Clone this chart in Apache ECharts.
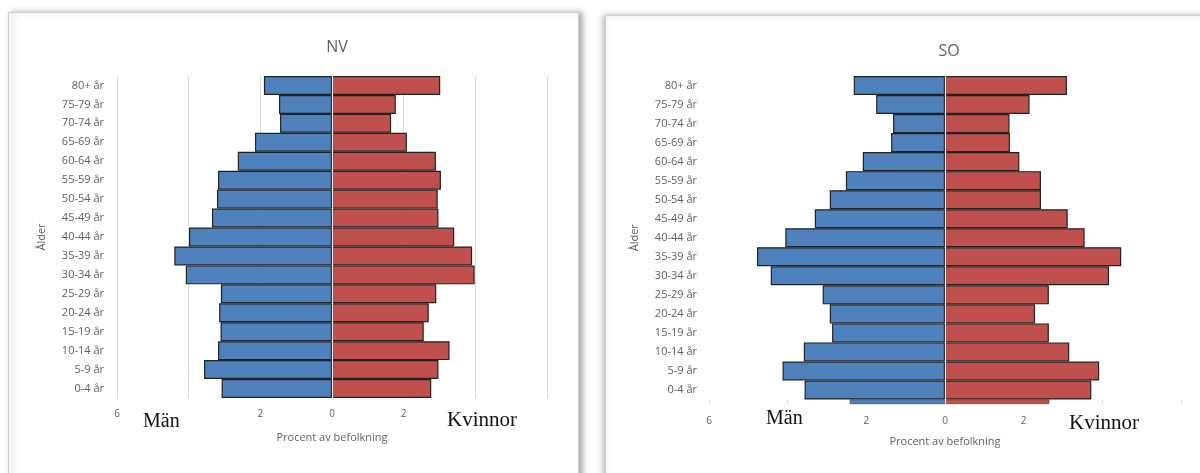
<!DOCTYPE html>
<html>
<head>
<meta charset="utf-8">
<script src="https://cdn.jsdelivr.net/npm/echarts@6/dist/echarts.min.js"></script>
<style>html,body{margin:0;padding:0;background:#fff;}#c{width:1200px;height:473px;}</style>
</head>
<body>
<div id="c"></div>
<script>
const ageGroups = ['0-4 år','5-9 år','10-14 år','15-19 år','20-24 år','25-29 år','30-34 år','35-39 år','40-44 år','45-49 år','50-54 år','55-59 år','60-64 år','65-69 år','70-74 år','75-79 år','80+ år'];
const nvMen   = [3.08,3.57,3.18,3.11,3.15,3.10,4.08,4.40,3.99,3.35,3.21,3.18,2.63,2.15,1.45,1.48,1.90];
const nvWomen = [2.77,2.97,3.28,2.56,2.70,2.91,3.98,3.91,3.41,2.97,2.95,3.04,2.90,2.09,1.65,1.78,3.02];
const soMen   = [3.57,4.13,3.59,2.87,2.93,3.11,4.43,4.78,4.06,3.31,2.93,2.52,2.09,1.37,1.32,1.75,2.32];
const soWomen = [3.72,3.92,3.16,2.64,2.29,2.64,4.17,4.48,3.55,3.12,2.44,2.44,1.89,1.65,1.64,2.15,3.10];
const soExtraMen = [2.42];
const soExtraWomen = [2.65];
const xTickLabels = {'-6':'6','-2':'2','0':'0','2':'2'};
const panelTitles = ['NV','SO'];

const chart = echarts.init(document.getElementById('c'), null, {renderer:'canvas'});
const grey = '#5f5f5f';
const blue = '#4f81bd', red = '#c0504d', edge = '#222222';

function xAxisFor(gi, showName, labelMargin, nameGap) {
  return {
    gridIndex: gi, type: 'value', min: -6, max: 6, interval: 2,
    axisLine: {show: false}, axisTick: {show: false},
    splitLine: {show: showName !== null, lineStyle: {color: '#d9d9d9', width: 1}},
    axisLabel: {show: showName !== null, color: grey, fontSize: 10, fontFamily: 'Open Sans', margin: labelMargin,
      formatter: v => (xTickLabels[String(v)] !== undefined ? xTickLabels[String(v)] : '')},
    name: showName || '', nameLocation: 'middle', nameGap: nameGap,
    nameTextStyle: {color: grey, fontSize: 11, fontFamily: 'Open Sans'}
  };
}
function yAxisFor(gi, cats, showName, nameGap, margin) {
  return {
    gridIndex: gi, type: 'category', data: cats,
    axisTick: {show: false},
    axisLine: {show: true, onZero: true, lineStyle: {color: '#e8e8e8', width: 1.2}},
    axisLabel: {show: showName, color: grey, fontSize: 11, fontFamily: 'Open Sans', margin: margin},
    name: showName ? 'Ålder' : '', nameLocation: 'middle', nameRotate: 90, nameGap: nameGap,
    nameTextStyle: {color: grey, fontSize: 11, fontFamily: 'Open Sans'},
    z: 5
  };
}
function barSeries(xi, data, color, sign, bw) {
  return {
    type: 'bar', xAxisIndex: xi, yAxisIndex: xi,
    data: data.map(v => sign * v),
    barWidth: '100%', barGap: '-100%',
    itemStyle: {color: color, borderColor: edge, borderWidth: bw},
    silent: true, z: 2
  };
}

const option = {
  backgroundColor: '#ffffff',
  animation: false,
  graphic: [
    {type: 'rect', shape: {x: 8.5, y: 12.5, width: 570, height: 470}, z: -10,
     style: {fill: '#fff', stroke: '#cfcfcf', lineWidth: 1, shadowBlur: 6, shadowOffsetX: 3, shadowOffsetY: 0, shadowColor: 'rgba(0,0,0,0.35)'}},
    {type: 'rect', shape: {x: 605.5, y: 15.5, width: 620, height: 470}, z: -10,
     style: {fill: '#fff', stroke: '#cfcfcf', lineWidth: 1, shadowBlur: 6, shadowOffsetX: -2, shadowOffsetY: 0, shadowColor: 'rgba(0,0,0,0.3)'}},
    {type: 'text', left: 143, top: 412, z: 10, style: {text: 'Män', fill: '#111', font: '20px "Liberation Serif"'}},
    {type: 'text', left: 447, top: 410, z: 10, style: {text: 'Kvinnor', fill: '#111', font: '21px "Liberation Serif"'}},
    {type: 'text', left: 766, top: 409, z: 10, style: {text: 'Män', fill: '#111', font: '20px "Liberation Serif"'}},
    {type: 'text', left: 1069, top: 413, z: 10, style: {text: 'Kvinnor', fill: '#111', font: '21px "Liberation Serif"'}}
  ],
  title: [
    {text: panelTitles[0], left: 332, top: 34, textAlign: 'center',
     textStyle: {color: grey, fontSize: 16, fontWeight: 'normal', fontFamily: 'Open Sans'}},
    {text: panelTitles[1], left: 944, top: 38, textAlign: 'center',
     textStyle: {color: grey, fontSize: 16, fontWeight: 'normal', fontFamily: 'Open Sans'}}
  ],
  grid: [
    {left: 117, width: 430, top: 76, height: 322},
    {left: 709, width: 472, top: 76, height: 323.5},
    {left: 709, width: 472, top: 399.5, height: 4.5}
  ],
  xAxis: [
    xAxisFor(0, 'Procent av befolkning', 11, 34),
    xAxisFor(1, null, 0, 0),
    xAxisFor(2, 'Procent av befolkning', 12, 32)
  ],
  yAxis: [
    yAxisFor(0, ageGroups, true, 70, 13),
    yAxisFor(1, ageGroups, true, 69, 12),
    yAxisFor(2, [''], false, 0, 12)
  ],
  series: [
    barSeries(0, nvMen, blue, -1, 1.2),
    barSeries(0, nvWomen, red, 1, 1.2),
    barSeries(1, soMen, blue, -1, 1.2),
    barSeries(1, soWomen, red, 1, 1.2),
    barSeries(2, soExtraMen, blue, -1, 0.5),
    barSeries(2, soExtraWomen, red, 1, 0.5)
  ]
};
chart.setOption(option);
</script>
</body>
</html>
